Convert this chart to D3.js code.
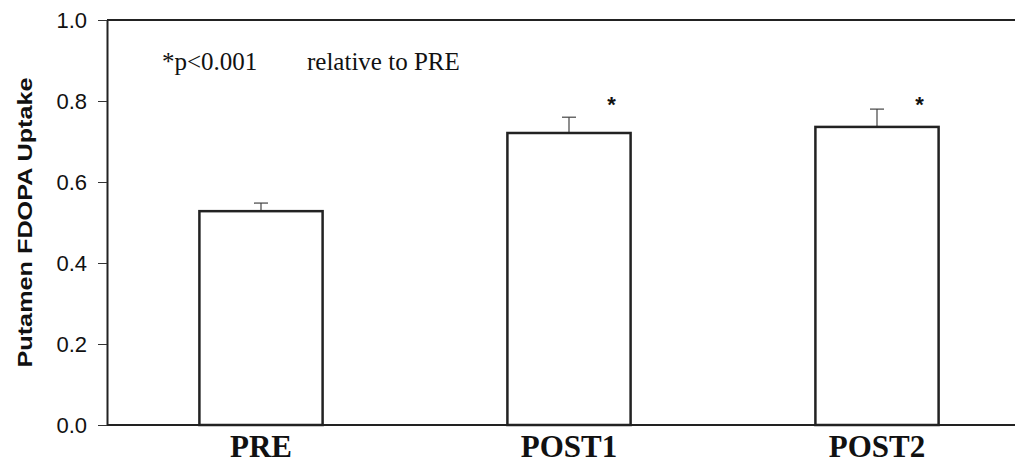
<!DOCTYPE html>
<html>
<head>
<meta charset="utf-8">
<script src="https://cdn.jsdelivr.net/npm/d3@7"></script>
<style>
  body { margin: 0; background: #fff; }
  svg { display: block; }
</style>
</head>
<body>
<div id="chart"></div>
<script>
const categories = ['PRE', 'POST1', 'POST2'];
const uptake = [0.528, 0.721, 0.736];
const errorHigh = [0.548, 0.760, 0.780];
const starred = [false, true, true];
const starLevel = 0.80;
const yTicks = [0.0, 0.2, 0.4, 0.6, 0.8, 1.0];

const W = 1015, H = 463;
const margin = { top: 20, right: -16, bottom: 38, left: 107 };
const width = W - margin.left - margin.right,
  height = H - margin.top - margin.bottom;

const svg = d3.select('#chart')
  .append('svg')
  .attr('width', W)
  .attr('height', H)
  .append('g')
  .attr('transform', `translate(${margin.left}, ${margin.top})`);

const x = d3.scaleBand()
  .domain(categories)
  .range([0, width])
  .paddingInner(0.6)
  .paddingOuter(0.3);

const y = d3.scaleLinear()
  .domain([0, 1])
  .range([height, 0]);

// frame: top and bottom lines run off the right edge
svg.append('line')
  .attr('x1', 0).attr('x2', width)
  .attr('y1', 0).attr('y2', 0)
  .attr('stroke', '#222').attr('stroke-width', 2);
svg.append('line')
  .attr('x1', 0).attr('x2', width)
  .attr('y1', height).attr('y2', height)
  .attr('stroke', '#222').attr('stroke-width', 2);

const yAxis = svg.append('g')
  .call(d3.axisLeft(y).tickValues(yTicks).tickFormat(d3.format('.1f'))
    .tickSizeInner(9).tickSizeOuter(0).tickPadding(11));
yAxis.select('.domain').attr('stroke', '#222').attr('stroke-width', 2);
yAxis.selectAll('.tick line').attr('stroke', '#333').attr('stroke-width', 1);
yAxis.selectAll('.tick text')
  .attr('font-family', '"Liberation Sans", Arial, sans-serif')
  .attr('font-size', '22px')
  .attr('fill', '#111');

svg.append('text')
  .attr('transform', 'rotate(-90)')
  .attr('x', -height / 2).attr('y', -75)
  .attr('font-family', '"Liberation Sans", Arial, sans-serif')
  .attr('font-size', '21px')
  .attr('font-weight', 'bold')
  .attr('fill', '#111')
  .attr('text-anchor', 'middle')
  .attr('textLength', 290)
  .attr('lengthAdjust', 'spacingAndGlyphs')
  .text('Putamen FDOPA Uptake');

// error bars (upper only)
const eb = svg.selectAll('.eb')
  .data(categories)
  .enter()
  .append('g')
  .attr('class', 'eb');
eb.append('line')
  .attr('x1', d => x(d) + x.bandwidth() / 2)
  .attr('x2', d => x(d) + x.bandwidth() / 2)
  .attr('y1', (d, i) => y(uptake[i]))
  .attr('y2', (d, i) => y(errorHigh[i]))
  .attr('stroke', '#444').attr('stroke-width', 1.2);
eb.append('line')
  .attr('x1', d => x(d) + x.bandwidth() / 2 - 7)
  .attr('x2', d => x(d) + x.bandwidth() / 2 + 7)
  .attr('y1', (d, i) => y(errorHigh[i]))
  .attr('y2', (d, i) => y(errorHigh[i]))
  .attr('stroke', '#444').attr('stroke-width', 1.2);

svg.selectAll('rect.bar')
  .data(categories)
  .enter()
  .append('rect')
  .attr('class', 'bar')
  .attr('x', d => x(d))
  .attr('y', (d, i) => y(uptake[i]))
  .attr('width', x.bandwidth())
  .attr('height', (d, i) => height - y(uptake[i]))
  .attr('fill', '#fff')
  .attr('stroke', '#222')
  .attr('stroke-width', 2.5);

svg.selectAll('text.star')
  .data(categories.filter((d, i) => starred[i]))
  .enter()
  .append('text')
  .attr('class', 'star')
  .attr('x', d => x(d) + x.bandwidth() - 19)
  .attr('y', y(starLevel) + 11)
  .attr('font-family', '"Liberation Sans", Arial, sans-serif')
  .attr('font-size', '22px')
  .attr('font-weight', 'bold')
  .attr('fill', '#111')
  .attr('text-anchor', 'middle')
  .text('*');

svg.selectAll('text.cat')
  .data(categories)
  .enter()
  .append('text')
  .attr('class', 'cat')
  .attr('x', d => x(d) + x.bandwidth() / 2)
  .attr('y', height + 32)
  .attr('font-family', '"Liberation Serif", "Times New Roman", serif')
  .attr('font-size', '31px')
  .attr('font-weight', 'bold')
  .attr('fill', '#111')
  .attr('text-anchor', 'middle')
  .text(d => d);

const note = svg.append('g')
  .attr('font-family', '"Liberation Serif", "Times New Roman", serif')
  .attr('font-size', '25px')
  .attr('fill', '#111');
note.append('text').attr('x', 55).attr('y', 50).text('*p<0.001');
note.append('text').attr('x', 200).attr('y', 50).text('relative to PRE');
</script>
</body>
</html>
